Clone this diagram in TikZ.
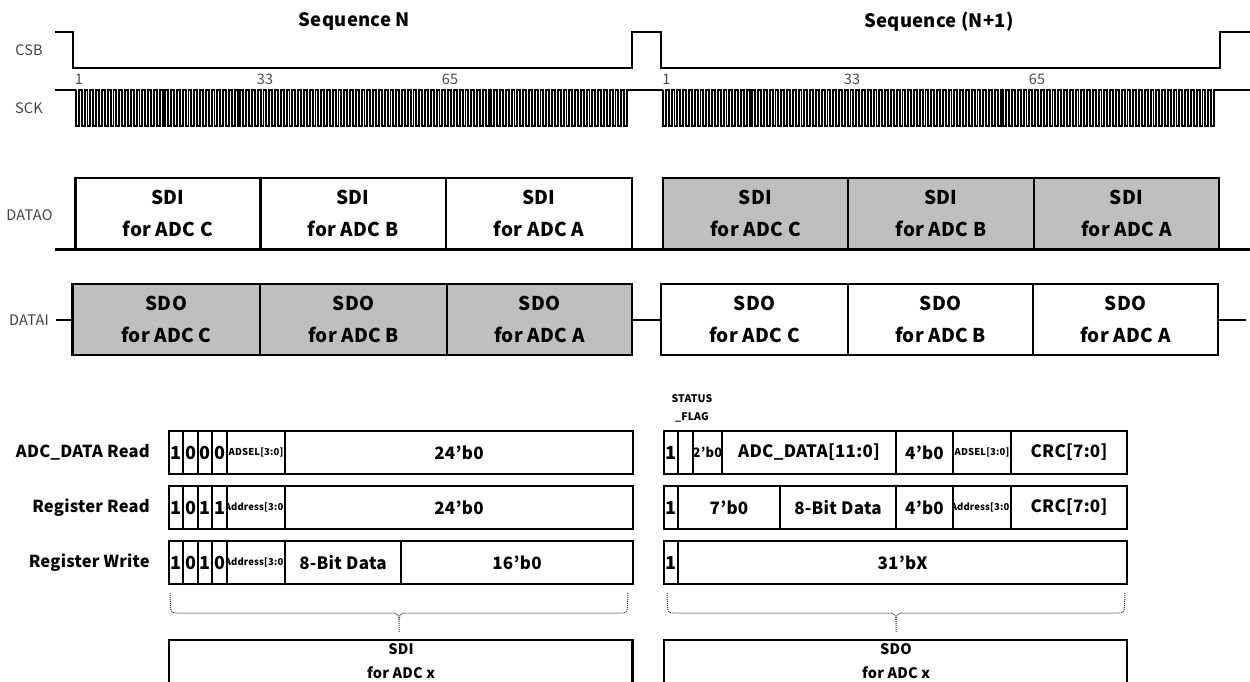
\documentclass[tikz,border=0pt]{standalone}
\usepackage{fontspec}
\setmainfont[LetterSpace=1.5,Ligatures=ResetAll]{Noto Sans CJK JP}
\tikzset{
  wave/.style   ={draw, line width=2.3pt, line join=miter},
  clk/.style    ={draw, line width=1.9pt},
  sig/.style    ={font=\fontsize{14.5}{16}\selectfont, text=black!75},
  tick/.style   ={font=\fontsize{14.5}{16}\selectfont, text=black!70, inner sep=0pt},
  title/.style  ={font=\bfseries\fontsize{18.5}{20}\selectfont, inner sep=0pt},
  seq/.style    ={draw, line width=2.8pt, minimum height=71pt, inner sep=0pt, align=center, font=\bfseries\fontsize{19}{32}\selectfont},
  seqfill/.style={seq, fill=shade},
  cell/.style   ={draw, line width=2.1pt, minimum height=43.5pt, inner sep=0pt, font=\bfseries\fontsize{17}{18}\selectfont},
  bit/.style    ={cell, minimum width=14.5pt, font=\bfseries\fontsize{18}{18}\selectfont},
  tinyfld/.style={font=\bfseries\fontsize{9.5}{18}\selectfont, inner sep=0pt},
  rowname/.style={anchor=east, inner sep=0pt, font=\bfseries\fontsize{16.5}{18}\selectfont},
  brk/.style    ={draw, densely dotted, line width=1pt, black!80},
  frame/.style  ={draw, line width=2.2pt},
}
\definecolor{shade}{HTML}{BFBFBF}
\begin{document}
\begin{tikzpicture}[x=1pt,y=-1pt]
  \useasboundingbox (0,0) rectangle (1250,682);

  % Titles and signal names
  \node[title] (seqn)  at (354.5,21) {Sequence N};
  \node[title] (seqn1) at (939,22)   {Sequence (N+1)};
  \node[sig] (csb)   at (29,50)  {CSB};
  \node[sig] (sck)   at (29,108) {SCK};
  \node[sig] (datao) at (29.5,215) {DATAO};
  \node[sig] (datai) at (29,320) {DATAI};

  % CSB and SCK
  \draw[wave] (55,32) -- (73,32) -- (73,68) -- (632,68) -- (632,32) -- (661,32) -- (661,68) -- (1220,68) -- (1220,32) -- (1250,32);
  \draw[wave] (55,90) -- (76,90);
  \draw[wave] (630,90) -- (663,90);
  \draw[wave] (1217,90) -- (1250,90);
  \draw[clk] (76,90) \foreach \i in {1,...,96} { -- ++(0,36) -- ++(2.885,0) -- ++(0,-36) -- ++(2.885,0) };
  \draw[clk] (663,90) \foreach \i in {1,...,96} { -- ++(0,36) -- ++(2.885,0) -- ++(0,-36) -- ++(2.885,0) };

  \node[tick] (tka1) at (79,79)  {1};
  \node[tick] (tka2) at (265,79) {33};
  \node[tick] (tka3) at (450,79) {65};
  \node[tick] (tkb1) at (666.5,79) {1};
  \node[tick] (tkb2) at (852,79)   {33};
  \node[tick] (tkb3) at (1037,79)  {65};

  % DATAO
  \node[seq, minimum width=185pt] (oc1) at (167.75,213.5) {SDI\\for ADC C};
  \node[seq, minimum width=186pt] (ob1) at (353,213.5)    {SDI\\for ADC B};
  \node[seq, minimum width=186pt] (oa1) at (539,213.5)    {SDI\\for ADC A};
  \node[seqfill, minimum width=185pt] (oc2) at (755.5,213.5) {SDI\\for ADC C};
  \node[seqfill, minimum width=186pt] (ob2) at (941,213.5)   {SDI\\for ADC B};
  \node[seqfill, minimum width=185pt] (oa2) at (1126.5,213.5) {SDI\\for ADC A};
  \draw[wave, line width=2.8pt] (55,249.5) -- (1250,249.5);

  % DATAI
  \node[seqfill, minimum width=187.5pt] (ic1) at (166.25,319.5) {SDO\\for ADC C};
  \node[seqfill, minimum width=187pt] (ib1) at (353.5,319.5)    {SDO\\for ADC B};
  \node[seqfill, minimum width=185pt] (ia1) at (539.5,319.5)    {SDO\\for ADC A};
  \node[seq, minimum width=187pt] (ic2) at (754.5,319.5) {SDO\\for ADC C};
  \node[seq, minimum width=185pt] (ib2) at (940.5,319.5) {SDO\\for ADC B};
  \node[seq, minimum width=185pt] (ia2) at (1125.5,319.5) {SDO\\for ADC A};
  \coordinate (inleft) at (56,319.5);
  \coordinate (inright) at (1246,319.5);
  \draw[wave, line width=2pt] (inleft) -- (ic1.west);
  \draw[wave, line width=2pt] (ia1.east) -- (ic2.west);
  \draw[wave, line width=2pt] (ia2.east) -- (inright);

  % Frame formats, SDI side
  \node[rowname] (rn1) at (150,452.5) {ADC\_DATA Read};
  \node[rowname] (rn2) at (150,507.5) {Register Read};
  \node[rowname] (rn3) at (150,562.5) {Register Write};

  \node[bit] (a1) at (176,452.5)   {1};
  \node[bit] (a2) at (190.5,452.5) {0};
  \node[bit] (a3) at (205,452.5)   {0};
  \node[bit] (a4) at (219.5,452.5) {0};
  \node[cell, minimum width=58pt, tinyfld] (a5) at (256,452.5) {ADSEL[3:0]};
  \node[cell, minimum width=348pt] (a6) at (459,452.5) {24'b0};

  \node[bit] (b1) at (176,507.5)   {1};
  \node[bit] (b2) at (190.5,507.5) {0};
  \node[bit] (b3) at (205,507.5)   {1};
  \node[bit] (b4) at (219.5,507.5) {1};
  \node[cell, minimum width=58pt, path picture={\node[tinyfld] (b5t) at (path picture bounding box.center) {Address[3:0]};}] (b5) at (256,507.5) {};
  \node[cell, minimum width=348pt] (b6) at (459,507.5) {24'b0};

  \node[bit] (c1) at (176,562.5)   {1};
  \node[bit] (c2) at (190.5,562.5) {0};
  \node[bit] (c3) at (205,562.5)   {1};
  \node[bit] (c4) at (219.5,562.5) {0};
  \node[cell, minimum width=58pt, path picture={\node[tinyfld] (c5t) at (path picture bounding box.center) {Address[3:0]};}] (c5) at (256,562.5) {};
  \node[cell, minimum width=116pt] (c6) at (343,562.5) {8-Bit Data};
  \node[cell, minimum width=232pt] (c7) at (517,562.5) {16'b0};

  % Frame formats, SDO side
  \node[tinyfld, align=center, font=\bfseries\fontsize{10.5}{18}\selectfont] (flag) at (692,408) {STATUS\\\_FLAG};

  \node[bit] (d1) at (671,452.5)   {1};
  \node[bit] (d2) at (685.5,452.5) {};
  \node[cell, minimum width=29pt, font=\bfseries\fontsize{13}{18}\selectfont] (d3) at (707.5,452.5) {2'b0};
  \node[cell, minimum width=174pt] (d4) at (809,452.5) {ADC\_DATA[11:0]};
  \node[cell, minimum width=57pt] (d5) at (924.5,452.5) {4'b0};
  \node[cell, minimum width=58pt, tinyfld] (d6) at (982,452.5) {ADSEL[3:0]};
  \node[cell, minimum width=116pt] (d7) at (1069,452.5) {CRC[7:0]};

  \node[bit] (e1) at (671,507.5) {1};
  \node[cell, minimum width=102pt] (e2) at (729,507.5) {7'b0};
  \node[cell, minimum width=116pt] (e3) at (838,507.5) {8-Bit Data};
  \node[cell, minimum width=57pt] (e4) at (924.5,507.5) {4'b0};
  \node[cell, minimum width=58pt, path picture={\node[tinyfld] (e5t) at (path picture bounding box.center) {Address[3:0]};}] (e5) at (982,507.5) {};
  \node[cell, minimum width=116pt] (e6) at (1069,507.5) {CRC[7:0]};

  \node[bit] (f1) at (671,562.5) {1};
  \node[cell, minimum width=449pt] (f2) at (902.5,562.5) {31'bX};

  % Dotted brackets down to the expanded fields
  \draw[brk] (170,593) -- (170.5,607) .. controls (171,612) and (172,613) .. (177,613) -- (392,613) .. controls (397,613) and (399,615) .. (399,620) -- (399,633);
  \draw[brk] (628,593) -- (627.5,607) .. controls (627,612) and (626,613) .. (621,613) -- (406,613) .. controls (401,613) and (399,615) .. (399,620);
  \draw[brk] (667,593) -- (667.5,607) .. controls (668,612) and (669,613) .. (674,613) -- (889,613) .. controls (894,613) and (896,615) .. (896,620) -- (896,633);
  \draw[brk] (1125,593) -- (1124.5,607) .. controls (1124,612) and (1123,613) .. (1118,613) -- (903,613) .. controls (898,613) and (896,615) .. (896,620);

  \draw[frame] (169,682) |- (632.5,640) -- (632.5,682);
  \draw[frame] (664,682) |- (1127,640) -- (1127,682);
  \node[align=center, inner sep=0pt, font=\bfseries\fontsize{14.5}{24}\selectfont] (sdix) at (401,661) {SDI\\for ADC x};
  \node[align=center, inner sep=0pt, font=\bfseries\fontsize{14.5}{24}\selectfont] (sdox) at (896,661) {SDO\\for ADC x};
\end{tikzpicture}
\end{document}
